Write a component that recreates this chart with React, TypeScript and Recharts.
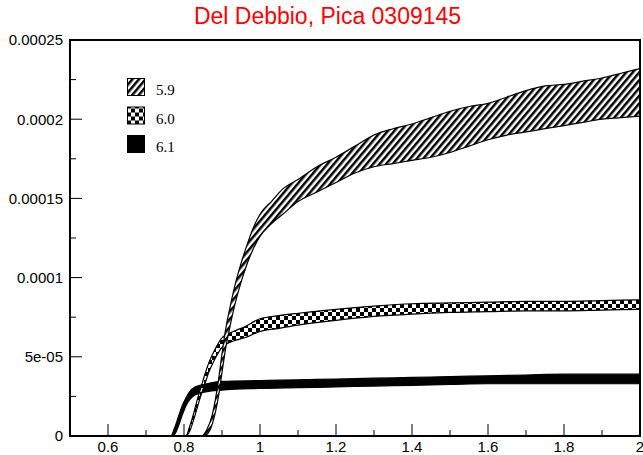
import React from "react";
import { ComposedChart, Area, XAxis, YAxis, ReferenceArea } from "recharts";

// values in units of 1e-5
const x59 = [0.5, 0.845, 0.86, 0.875, 0.89, 0.9, 0.91, 0.92, 0.935, 0.95, 0.965, 0.98, 1.0, 1.03, 1.06, 1.1, 1.15, 1.2, 1.25, 1.3, 1.35, 1.4, 1.45, 1.5, 1.55, 1.6, 1.65, 1.7, 1.75, 1.8, 1.85, 1.9, 1.95, 2.0];
const hi59 = [0, 0, 0.4, 1.4, 3.4, 5.2, 6.8, 8.0, 9.6, 10.9, 12.0, 13.0, 14.0, 14.8, 15.6, 16.2, 17.0, 17.6, 18.3, 19.0, 19.4, 19.7, 20.1, 20.5, 20.8, 21.0, 21.4, 21.8, 22.1, 22.2, 22.4, 22.6, 22.9, 23.2];
const lo59 = [0, 0, 0.1, 0.8, 2.4, 4.0, 5.6, 6.8, 8.4, 9.7, 10.8, 11.7, 12.6, 13.4, 14.0, 14.8, 15.4, 16.0, 16.6, 17.0, 17.2, 17.4, 17.6, 17.9, 18.3, 18.7, 19.0, 19.2, 19.4, 19.6, 19.8, 20.0, 20.1, 20.2];

const x60 = [0.5, 0.805, 0.815, 0.825, 0.835, 0.845, 0.855, 0.865, 0.88, 0.9, 0.93, 0.96, 1.0, 1.05, 1.1, 1.2, 1.3, 1.4, 1.5, 1.6, 1.7, 1.8, 1.9, 2.0];
const hi60 = [0, 0, 0.6, 1.4, 2.3, 3.1, 3.9, 4.6, 5.4, 6.2, 6.6, 6.9, 7.4, 7.6, 7.75, 8.0, 8.2, 8.35, 8.4, 8.45, 8.5, 8.5, 8.55, 8.6];
const lo60 = [0, 0, 0.3, 1.0, 1.8, 2.6, 3.3, 4.0, 4.8, 5.6, 6.0, 6.2, 6.6, 6.8, 7.0, 7.3, 7.55, 7.7, 7.8, 7.85, 7.9, 7.9, 7.95, 8.0];

const x61 = [0.5, 0.765, 0.775, 0.785, 0.795, 0.805, 0.815, 0.83, 0.86, 0.9, 1.0, 1.1, 1.2, 1.3, 1.4, 1.5, 1.6, 1.7, 1.8, 1.9, 2.0];
const hi61 = [0, 0, 0.5, 1.2, 1.9, 2.4, 2.8, 3.1, 3.3, 3.45, 3.5, 3.55, 3.6, 3.65, 3.7, 3.75, 3.8, 3.85, 3.9, 3.9, 3.9];
const lo61 = [0, 0, 0.1, 0.6, 1.3, 1.9, 2.3, 2.6, 2.8, 2.9, 3.0, 3.05, 3.1, 3.15, 3.2, 3.25, 3.3, 3.3, 3.3, 3.3, 3.3];

const xTicks = [0.6, 0.7, 0.8, 0.9, 1, 1.1, 1.2, 1.3, 1.4, 1.5, 1.6, 1.7, 1.8, 1.9, 2];
const xMajor = [0.6, 0.8, 1, 1.2, 1.4, 1.6, 1.8, 2];
const xLabels = ["0.6", "0.8", "1", "1.2", "1.4", "1.6", "1.8", "2"];
const yTicks = [0, 2.5, 5, 7.5, 10, 12.5, 15, 17.5, 20, 22.5, 25];
const yMajor = [0, 5, 10, 15, 20, 25];
const yLabels = ["0", "5e-05", "0.0001", "0.00015", "0.0002", "0.00025"];

const seriesNames = ["5.9", "6.0", "6.1"];

const toRows = (xs: number[], lo: number[], hi: number[]) =>
  xs.map((x, i) => ({ x, range: [lo[i], hi[i]] }));

const font = "'Liberation Sans', Arial, sans-serif";

const labelFor = (v: number, majors: number[], labels: string[]) => {
  const i = majors.findIndex((m) => Math.abs(m - v) < 1e-6);
  return i >= 0 ? labels[i] : null;
};

const BottomTick = (p: any) => {
  const lab = labelFor(p.payload.value, xMajor, xLabels);
  return (
    <g>
      <line x1={p.x} x2={p.x} y1={p.y} y2={p.y - (lab ? 12 : 6)} stroke="#000" strokeWidth={1} />
      {lab && (
        <text x={p.x} y={p.y + 16} textAnchor="middle" fontSize={15} fontFamily={font} fill="#000">
          {lab}
        </text>
      )}
    </g>
  );
};

const TopTick = (p: any) => {
  const lab = labelFor(p.payload.value, xMajor, xLabels);
  return <line x1={p.x} x2={p.x} y1={p.y} y2={p.y + (lab ? 12 : 6)} stroke="#000" strokeWidth={1} />;
};

const LeftTick = (p: any) => {
  const lab = labelFor(p.payload.value, yMajor, yLabels);
  return (
    <g>
      <line x1={p.x} x2={p.x + (lab ? 12 : 6)} y1={p.y} y2={p.y} stroke="#000" strokeWidth={1} />
      {lab && (
        <text x={p.x - 7} y={p.y + 5.3} textAnchor="end" fontSize={15} fontFamily={font} fill="#000">
          {lab}
        </text>
      )}
    </g>
  );
};

const RightTick = (p: any) => {
  const lab = labelFor(p.payload.value, yMajor, yLabels);
  return <line x1={p.x} x2={p.x - (lab ? 12 : 6)} y1={p.y} y2={p.y} stroke="#000" strokeWidth={1} />;
};

const Patterns = ({ prefix }: { prefix: string }) => (
  <defs>
    <pattern id={`${prefix}hatch`} patternUnits="userSpaceOnUse" width={5} height={5} patternTransform="rotate(40)">
      <rect x={0} y={0} width={5} height={5} fill="#fff" />
      <rect x={0} y={0} width={2.5} height={5} fill="#000" />
    </pattern>
    <pattern id={`${prefix}check`} patternUnits="userSpaceOnUse" width={8} height={8}>
      <rect x={0} y={0} width={8} height={8} fill="#fff" />
      <rect x={0} y={0} width={4} height={4} fill="#000" />
      <rect x={4} y={4} width={4} height={4} fill="#000" />
    </pattern>
  </defs>
);

const fills = ["hatch", "check", ""];

export default function App() {
  const axisLine = { stroke: "#000", strokeWidth: 2 };
  return (
    <div style={{ position: "absolute", left: 0, top: 0, width: 643, height: 455, background: "#fff" }}>
      <div
        style={{
          position: "absolute",
          left: 6,
          top: 3,
          width: 643,
          textAlign: "center",
          color: "#ff0000",
          fontFamily: font,
          fontSize: 23,
        }}
      >
        Del Debbio, Pica 0309145
      </div>
      <ComposedChart width={643} height={455} margin={{ top: 40, right: 3, bottom: 0, left: 0 }}>
        <Patterns prefix="c-" />
        <XAxis xAxisId="b" type="number" dataKey="x" domain={[0.5, 2]} ticks={xTicks} interval={0}
          allowDataOverflow height={19} tickSize={0} tickMargin={0} tickLine={false} axisLine={axisLine}
          tick={(p: any) => <BottomTick {...p} />} />
        <XAxis xAxisId="t" orientation="top" type="number" dataKey="x" domain={[0.5, 2]} ticks={xTicks} interval={0}
          allowDataOverflow height={0} tickSize={0} tickMargin={0} tickLine={false} axisLine={axisLine}
          tick={(p: any) => <TopTick {...p} />} />
        <YAxis yAxisId="l" type="number" domain={[0, 25]} ticks={yTicks} interval={0}
          allowDataOverflow width={70} tickSize={0} tickMargin={0} tickLine={false} axisLine={axisLine}
          tick={(p: any) => <LeftTick {...p} />} />
        <YAxis yAxisId="r" orientation="right" type="number" domain={[0, 25]} ticks={yTicks} interval={0}
          allowDataOverflow width={0} tickSize={0} tickMargin={0} tickLine={false} axisLine={axisLine}
          tick={(p: any) => <RightTick {...p} />} />
        <Area xAxisId="b" yAxisId="l" data={toRows(x61, lo61, hi61)} dataKey="range" type="monotone"
          stroke="#000" strokeWidth={1.2} fill="#000" fillOpacity={1} isAnimationActive={false} />
        <Area xAxisId="b" yAxisId="l" data={toRows(x60, lo60, hi60)} dataKey="range" type="monotone"
          stroke="#000" strokeWidth={1.2} fill="url(#c-check)" fillOpacity={1} isAnimationActive={false} />
        <Area xAxisId="b" yAxisId="l" data={toRows(x59, lo59, hi59)} dataKey="range" type="monotone"
          stroke="#000" strokeWidth={1.2} fill="url(#c-hatch)" fillOpacity={1} isAnimationActive={false} />
        <ReferenceArea xAxisId="b" yAxisId="l" x1={0.5} x2={2} y1={0} y2={25} fill="none" fillOpacity={0}
          stroke="#000" strokeWidth={2} ifOverflow="visible" />
      </ComposedChart>
      <svg width={60} height={80} style={{ position: "absolute", left: 127, top: 76 }}>
        <Patterns prefix="l-" />
        {seriesNames.map((name, i) => (
          <g key={name} transform={`translate(0, ${i * 28.5})`}>
            <rect x={0.5} y={2.5} width={17} height={17} fill={fills[i] ? `url(#l-${fills[i]})` : "#000"} stroke="#000" strokeWidth={1} />
            <text x={29} y={19} fontSize={15} fontFamily="'Liberation Serif', 'Times New Roman', serif" fill="#000">
              {name}
            </text>
          </g>
        ))}
      </svg>
    </div>
  );
}
